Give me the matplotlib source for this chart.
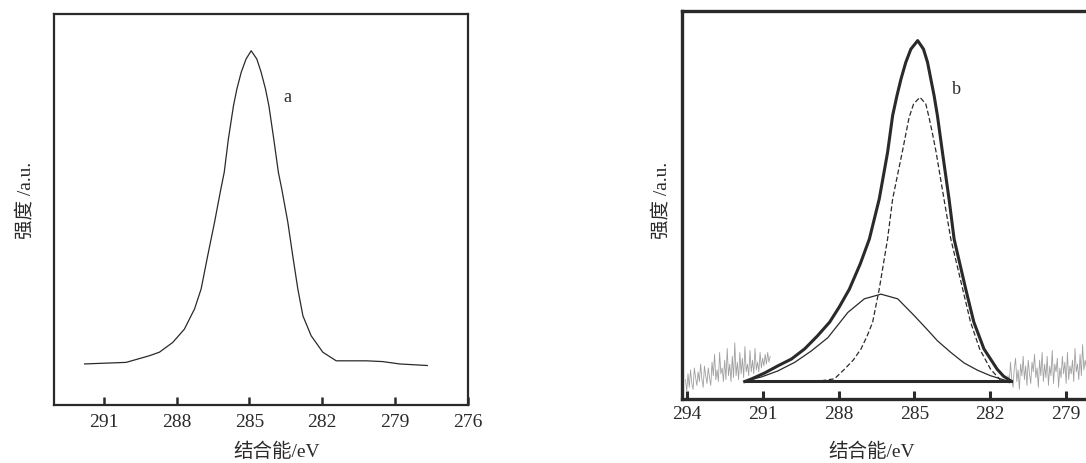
import matplotlib
matplotlib.use("Agg")
import matplotlib.pyplot as plt

plt.rcParams['font.family'] = ['Liberation Serif', 'Noto Sans CJK SC']

# ---- panel a: C1s spectrum (binding energy eV, intensity a.u.) ----
a_be = [291.79, 290.08, 289.12, 288.71, 288.16, 287.68, 287.26, 286.99, 286.72, 286.44,
        286.18, 286.04, 285.87, 285.66, 285.52, 285.34, 285.14, 284.93, 284.70, 284.52,
        284.34, 284.20, 284.00, 283.81, 283.67, 283.42, 283.22, 283.01, 282.80, 282.46,
        281.98, 281.43, 280.19, 279.51, 278.82, 277.68]
a_int = [10.5, 10.9, 12.6, 13.5, 16.0, 19.4, 24.6, 29.7, 38.2, 46.7,
         55.2, 59.5, 68.0, 76.5, 80.8, 85.1, 88.5, 90.6, 88.5, 85.1,
         80.8, 76.5, 68.0, 59.5, 55.2, 46.7, 38.2, 29.7, 22.8, 17.7,
         13.5, 11.3, 11.3, 11.1, 10.5, 10.1]

# ---- panel b: fitted envelope ----
env_be = [291.71, 291.43, 290.92, 290.38, 289.86, 289.34, 288.84, 288.35, 287.97, 287.57,
          287.14, 286.78, 286.39, 286.06, 285.86, 285.69, 285.53, 285.34, 285.14, 284.87,
          284.64, 284.48, 284.35, 284.22, 284.09, 283.89, 283.63, 283.43, 282.97, 282.65,
          282.25, 281.73, 281.48, 281.20]
env_int = [4.5, 5.2, 6.7, 8.6, 10.3, 12.9, 16.2, 19.8, 23.7, 28.3,
           34.8, 41.2, 51.5, 63.5, 73.0, 78.1, 82.4, 86.7, 90.1, 92.3,
           90.1, 86.7, 82.4, 78.1, 73.0, 63.5, 51.5, 41.2, 28.3, 19.8,
           12.9, 7.7, 5.9, 4.7]

# main component (dashed)
c1_be = [288.68, 288.16, 287.76, 287.42, 287.11, 286.87, 286.65, 286.39, 286.06, 285.86,
         285.66, 285.47, 285.34, 285.21, 285.03, 284.78, 284.55, 284.42, 284.28, 284.15,
         283.83, 283.56, 283.09, 282.78, 282.42, 281.99, 281.60]
c1_int = [4.7, 5.2, 7.7, 10.0, 12.9, 16.2, 19.8, 28.3, 41.2, 51.5,
          57.9, 63.9, 68.2, 72.5, 76.0, 77.7, 76.0, 72.5, 68.2, 63.9,
          51.5, 41.2, 28.3, 19.8, 12.9, 7.7, 4.9]

# second component (thin solid)
c2_be = [291.63, 291.04, 290.41, 289.73, 289.07, 288.42, 287.63, 286.98, 286.32, 285.66,
         285.01, 284.48, 284.09, 283.56, 283.04, 282.50, 281.99, 281.40]
c2_int = [4.7, 5.7, 7.2, 9.45, 12.4, 15.8, 22.3, 25.8, 27.0, 25.8,
          21.5, 17.8, 15.0, 12.0, 9.3, 7.4, 6.0, 4.8]

base_be = [291.71, 281.20]
base_int = [4.6, 4.6]

# raw data noise (outside fitted range)
rawL_be = [294.05, 294.0, 293.95, 293.9, 293.85, 293.8, 293.75, 293.7, 293.65, 293.6,
           293.55, 293.5, 293.45, 293.4, 293.35, 293.3, 293.25, 293.2, 293.15, 293.1,
           293.05, 293.0, 292.95, 292.9, 292.85, 292.8, 292.75, 292.7, 292.65, 292.6,
           292.55, 292.5, 292.45, 292.4, 292.35, 292.3, 292.25, 292.2, 292.15, 292.1,
           292.05, 292.0, 291.95, 291.9, 291.85, 291.8, 291.75, 291.7, 291.65, 291.6,
           291.55, 291.5, 291.45, 291.4, 291.35, 291.3, 291.25, 291.2, 291.15, 291.1,
           291.05, 291.0, 290.95, 290.9, 290.85, 290.8, 290.75, 290.7]
rawL_int = [5.0, 2.0, 6.5, 3.0, 7.5, 4.0, 2.5, 8.0, 5.5, 3.5,
            7.0, 4.5, 9.0, 5.0, 3.0, 8.5, 6.0, 4.0, 8.0, 5.5,
            3.5, 9.5, 6.0, 11.5, 5.0, 7.5, 4.5, 12.0, 6.5, 8.0,
            4.5, 10.0, 5.0, 13.0, 6.0, 9.0, 4.5, 11.0, 5.5, 14.5,
            6.0, 9.5, 5.0, 12.0, 6.5, 10.5, 5.5, 13.5, 7.0, 9.0,
            6.0, 12.5, 7.0, 10.0, 6.5, 13.0, 7.5, 9.5, 7.0, 12.0,
            8.0, 10.5, 8.5, 11.5, 9.0, 12.0, 9.5, 11.0]
rawR_be = [281.3, 281.25, 281.2, 281.15, 281.1, 281.05, 281.0, 280.95, 280.9, 280.85,
           280.8, 280.75, 280.7, 280.65, 280.6, 280.55, 280.5, 280.45, 280.4, 280.35,
           280.3, 280.25, 280.2, 280.15, 280.1, 280.05, 280.0, 279.95, 279.9, 279.85,
           279.8, 279.75, 279.7, 279.65, 279.6, 279.55, 279.5, 279.45, 279.4, 279.35,
           279.3, 279.25, 279.2, 279.15, 279.1, 279.05, 279.0, 278.95, 278.9, 278.85,
           278.8, 278.75, 278.7, 278.65, 278.6, 278.55, 278.5, 278.45, 278.4, 278.35,
           278.3, 278.25, 278.2, 278.15]
rawR_int = [6.0, 4.0, 9.5, 5.0, 3.0, 8.0, 10.5, 4.5, 7.5, 2.5,
            9.0, 6.0, 11.0, 5.0, 8.5, 3.5, 10.0, 6.5, 4.0, 9.5,
            7.0, 11.5, 5.5, 8.0, 3.0, 10.0, 6.0, 12.0, 4.5, 9.0,
            5.5, 11.0, 3.5, 8.5, 6.0, 12.5, 4.0, 9.0, 7.0, 10.5,
            3.0, 8.0, 5.5, 11.0, 6.5, 9.5, 4.0, 12.0, 5.0, 8.5,
            6.5, 10.0, 4.5, 13.0, 7.0, 9.0, 5.0, 11.5, 6.0, 14.0,
            7.5, 10.0, 8.0, 12.5]

ticks_a = [291, 288, 285, 282, 279, 276]
ticks_b = [294, 291, 288, 285, 282, 279]
ylabel = '强度 /a.u.'
xlabel = '结合能/eV'

fig = plt.figure(figsize=(10.86, 4.64), dpi=100)
ink = '#2a2a2a'

ax1 = fig.add_axes([0.0497, 0.125, 0.3813, 0.8427])
ax1.plot(a_be, a_int, color=ink, lw=0.9)
ax1.set_xlim(293.05, 276)
ax1.set_ylim(0, 100)
ax1.set_xticks(ticks_a)
ax1.set_yticks([])
ax1.tick_params(axis='x', direction='in', length=6, width=1.8, colors=ink,
                labelsize=14, pad=6)
for sp in ax1.spines.values():
    sp.set_linewidth(1.6)
    sp.set_color(ink)
ax1.text(283.6, 79, 'a', fontsize=13, color=ink, va='center')

ax2 = fig.add_axes([0.6277, 0.1379, 0.4239, 0.8369])
ax2.plot(rawL_be, rawL_int, color='#a0a0a0', lw=0.6)
ax2.plot(rawR_be, rawR_int, color='#a0a0a0', lw=0.6)
ax2.plot(base_be, base_int, color=ink, lw=2.2)
ax2.plot(c2_be, c2_int, color=ink, lw=0.9)
ax2.plot(c1_be, c1_int, color=ink, lw=0.9, ls=(0, (4, 2)))
ax2.plot(env_be, env_int, color=ink, lw=2.2)
ax2.set_xlim(294.2, 276)
ax2.set_ylim(0, 100)
ax2.set_xticks(ticks_b)
ax2.set_yticks([])
ax2.tick_params(axis='x', direction='in', length=6, width=2.2, colors=ink,
                labelsize=14, pad=4)
for sp in ax2.spines.values():
    sp.set_linewidth(2.4)
    sp.set_color(ink)
ax2.text(283.5, 80, 'b', fontsize=13, color=ink, va='center')

fig.text(277 / 1086, 1 - 452 / 464, xlabel, ha='center', va='center', fontsize=14, color=ink)
fig.text(872 / 1086, 1 - 452 / 464, xlabel, ha='center', va='center', fontsize=14, color=ink)
fig.text(25 / 1086, 1 - 200 / 464, ylabel, ha='center', va='center', rotation=90, fontsize=14, color=ink)
fig.text(661 / 1086, 1 - 200 / 464, ylabel, ha='center', va='center', rotation=90, fontsize=14, color=ink)

fig.savefig('out.png', dpi=100)
